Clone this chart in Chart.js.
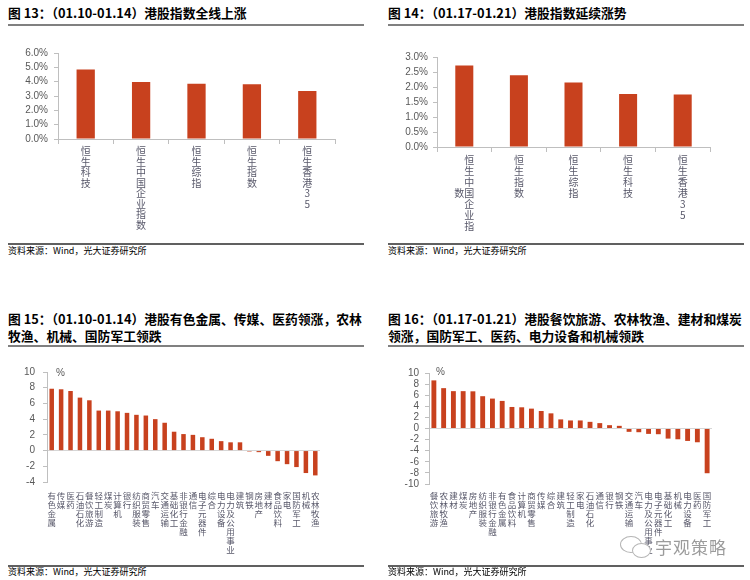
<!DOCTYPE html>
<html>
<head>
<meta charset="utf-8">
<script src="https://cdn.jsdelivr.net/npm/chart.js@4.4.1/dist/chart.umd.min.js"></script>
<style>
  body { margin: 0; width: 750px; height: 580px; background: #fff; position: relative; overflow: hidden;
         font-family: "Noto Sans CJK SC", sans-serif; }
  .title { position: absolute; font-weight: bold; font-size: 12.8px; line-height: 17px; color: #000; white-space: nowrap; }
  .rule { position: absolute; height: 2px; background: #808080; }
  .foot { position: absolute; height: 1.5px; background: #606060; }
  .src { position: absolute; font-size: 9px; line-height: 10px; color: #000; white-space: nowrap; }
  .box { position: absolute; }
  .pct { position: absolute; font: 10px "Liberation Sans", Arial, sans-serif; color: #595959; }
  .wm { position: absolute; left: 655px; top: 534px; font-size: 17px; color: #9b9b9b; letter-spacing: 1px; }
  .bub { position: absolute; border: 1.3px solid #b5b5b5; border-radius: 50%; background: #fff; }
</style>
</head>
<body>

<div class="title" style="left:8px;top:4px">图 13：（01.10-01.14）港股指数全线上涨</div>
<div class="rule" style="left:8px;top:24px;width:356px"></div>
<div class="box" style="left:0;top:30px"><canvas id="c13" width="375" height="210"></canvas></div>
<div class="foot" style="left:8px;top:243px;width:356px"></div>
<div class="src" style="left:8px;top:246px">资料来源：Wind，光大证券研究所</div>

<div class="title" style="left:388px;top:4px">图 14：（01.17-01.21）港股指数延续涨势</div>
<div class="rule" style="left:388px;top:24px;width:356px"></div>
<div class="box" style="left:375px;top:30px"><canvas id="c14" width="375" height="210"></canvas></div>
<div class="foot" style="left:388px;top:243px;width:356px"></div>
<div class="src" style="left:388px;top:246px">资料来源：Wind，光大证券研究所</div>

<div class="title" style="left:8px;top:310px">图 15：（01.10-01.14）港股有色金属、传媒、医药领涨，农林<br>牧渔、机械、国防军工领跌</div>
<div class="rule" style="left:8px;top:345px;width:356px"></div>
<div class="box" style="left:0;top:350px"><canvas id="c15" width="375" height="210"></canvas></div>
<div class="pct" style="left:56px;top:367px">%</div>
<div class="foot" style="left:8px;top:565px;width:356px"></div>
<div class="src" style="left:8px;top:567px">资料来源：Wind，光大证券研究所</div>

<div class="title" style="left:388px;top:310px">图 16：（01.17-01.21）港股餐饮旅游、农林牧渔、建材和煤炭<br>领涨，国防军工、医药、电力设备和机械领跌</div>
<div class="rule" style="left:388px;top:345px;width:356px"></div>
<div class="box" style="left:375px;top:350px"><canvas id="c16" width="375" height="210"></canvas></div>
<div class="pct" style="left:436px;top:366px">%</div>
<div class="foot" style="left:388px;top:565px;width:356px"></div>
<div class="src" style="left:388px;top:567px">资料来源：Wind，光大证券研究所</div>

<div class="bub" style="left:620px;top:536px;width:20px;height:15px"></div>
<div class="bub" style="left:632px;top:543px;width:17px;height:13px"></div>
<div class="wm">宇观策略</div>

<script>
// 图13 / 图14: 恒生系列指数周涨跌幅 (%)
const idx13Cats = ['恒生科技', '恒生中国企业指数', '恒生综指', '恒生指数', '恒生香港35'];
const idx13Vals = [4.85, 3.97, 3.85, 3.82, 3.35];

const idx14Cats = ['恒生中国企业指数', '恒生指数', '恒生综指', '恒生科技', '恒生香港35'];
const idx14Vals = [2.72, 2.39, 2.15, 1.77, 1.75];

// 图15 / 图16: 港股行业周涨跌幅 (%)
const sec15Cats = ['有色金属', '传媒', '医药', '石油石化', '餐饮旅游', '轻工制造', '煤炭', '计算机', '银行',
  '纺织服装', '商贸零售', '汽车', '交通运输', '基础化工', '非银行金融', '通信', '电子元器件', '综合',
  '电力设备', '电力及公用事业', '建筑', '钢铁', '房地产', '建材', '食品饮料', '家电', '国防军工', '机械', '农林牧渔'];
const sec15Vals = [7.87, 7.8, 7.58, 6.74, 6.4, 5.09, 5.09, 5.0, 4.8, 4.55, 4.46, 4.0, 3.54, 2.4, 2.1,
  2.0, 1.7, 1.5, 1.2, 1.05, 1.05, -0.12, -0.2, -0.67, -1.35, -1.73, -2.1, -2.86, -3.16];

const sec16Cats = ['餐饮旅游', '农林牧渔', '建材', '煤炭', '房地产', '纺织服装', '非银行金融', '有色金属', '食品饮料',
  '计算机', '商贸零售', '传媒', '综合', '建筑', '轻工制造', '家电', '石油石化', '通信', '银行', '钢铁',
  '交通运输', '汽车', '电力及公用事业', '电子元器件', '基础化工', '机械', '电力设备', '医药', '国防军工'];
const sec16Vals = [8.67, 7.27, 6.73, 6.73, 6.7, 5.82, 5.39, 4.97, 3.88, 3.82, 3.58, 3.15, 2.73, 1.64,
  1.45, 1.45, 1.2, 0.97, 0.6, 0.48, -0.6, -0.67, -0.97, -1.03, -1.82, -1.94, -2.24, -2.48, -8.06];

// axis ranges
const y13 = { min: 0, max: 6, step: 1 };
const y14 = { min: 0, max: 3, step: 0.5 };
const y15 = { min: -4, max: 10, step: 2 };
const y16 = { min: -10, max: 10, step: 2 };

const BAR = '#C8411E';
const AXIS = '#bfbfbf';
const CAT_COLOR = '#58586a';
const numFont = { family: '"Liberation Sans", Arial, sans-serif', size: 10 };

// vertical CJK labels: one character per line
function vert(s) { return s.split(''); }

// the long name in 图14 wraps into a second column, like the original
function vertWrap(s) {
  if (s.length <= 7) return vert(s);
  const col = s.slice(0, 7).split('').map(ch => '\u3000' + ch);
  col[3] = s.slice(7) + s[3];
  return col;
}

function makeChart(id, cats, vals, o) {
  return new Chart(document.getElementById(id), {
    type: 'bar',
    data: {
      labels: cats,
      datasets: [{ data: vals, backgroundColor: BAR, borderWidth: 0,
                   categoryPercentage: 1, barPercentage: o.barPct }]
    },
    options: {
      responsive: false,
      animation: false,
      layout: { padding: o.pad },
      plugins: { legend: { display: false }, tooltip: { enabled: false } },
      scales: {
        x: {
          afterFit: s => { s.height = o.xh; },
          border: { display: o.xBorder, color: AXIS },
          grid: o.xBorder
            ? { offset: true, drawOnChartArea: false, tickLength: 5, tickColor: AXIS }
            : { display: false, drawTicks: false },
          ticks: {
            autoSkip: false, maxRotation: 0, minRotation: 0,
            padding: o.xpad, color: CAT_COLOR,
            font: { family: '"Noto Sans CJK SC", sans-serif', size: o.catSize, lineHeight: o.catLh },
            callback: (v, i) => o.wrap(cats[i])
          }
        },
        y: {
          min: o.y.min, max: o.y.max,
          afterFit: s => { s.width = o.yw; },
          border: { color: AXIS },
          grid: {
            drawOnChartArea: o.zeroLine,
            color: c => (c.tick && c.tick.value === 0) ? '#d6d6d6' : 'rgba(0,0,0,0)',
            tickLength: 4, tickColor: AXIS
          },
          ticks: {
            autoSkip: false, stepSize: o.y.step, padding: o.ypad, color: '#595959', font: numFont,
            callback: o.fmt
          }
        }
      }
    }
  });
}

makeChart('c13', idx13Cats, idx13Vals, {
  barPct: 0.33, pad: { left: 0, right: 40, top: 23, bottom: 0 }, xh: 101, yw: 58,
  xBorder: true, xpad: 2, ypad: 6, catSize: 10, catLh: 1.05, wrap: vert,
  y: y13, zeroLine: false, fmt: v => v.toFixed(1) + '%'
});

makeChart('c14', idx14Cats, idx14Vals, {
  barPct: 0.33, pad: { left: 0, right: 40, top: 27, bottom: 0 }, xh: 93, yw: 62,
  xBorder: true, xpad: 3, ypad: 5, catSize: 10, catLh: 1.1, wrap: vertWrap,
  y: y14, zeroLine: false, fmt: v => v.toFixed(1) + '%'
});

makeChart('c15', sec15Cats, sec15Vals, {
  barPct: 0.48, pad: { left: 0, right: 55, top: 22, bottom: 0 }, xh: 78, yw: 47,
  xBorder: false, xpad: 9, ypad: 8, catSize: 8.5, catLh: 1.06, wrap: vert,
  y: y15, zeroLine: true, fmt: v => String(v)
});

makeChart('c16', sec16Cats, sec16Vals, {
  barPct: 0.5, pad: { left: 0, right: 38, top: 23, bottom: 0 }, xh: 76, yw: 54,
  xBorder: false, xpad: 7, ypad: 6, catSize: 8.5, catLh: 1.06, wrap: vert,
  y: y16, zeroLine: true, fmt: v => String(v)
});
</script>
</body>
</html>
